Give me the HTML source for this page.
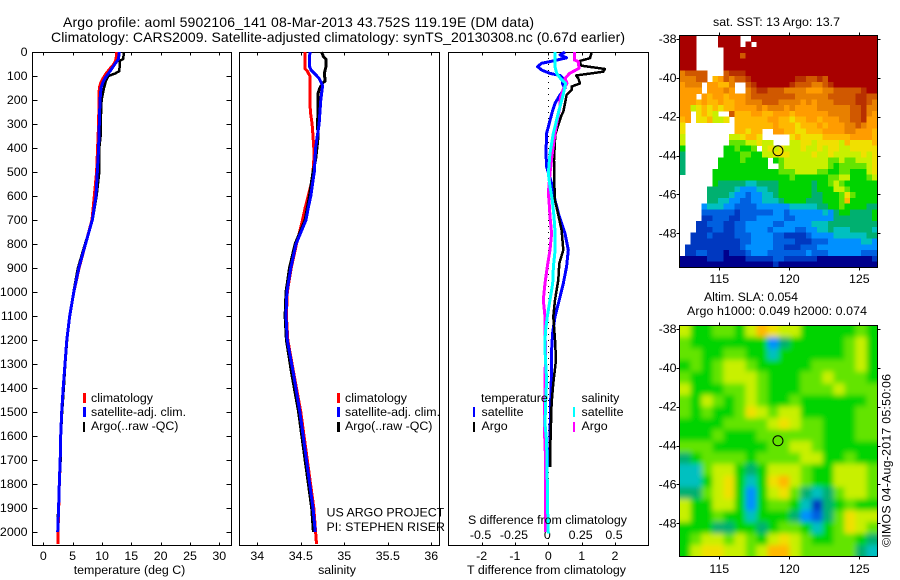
<!DOCTYPE html>
<html lang="en">
<head>
<meta charset="utf-8">
<title>Argo profile 5902106_141</title>
<style>
html,body{margin:0;padding:0;background:#fff;}
svg{display:block;}
text{font-family:"Liberation Sans",sans-serif;font-size:12.4px;fill:#000;}
.title{font-size:14px;}
.frame{fill:none;stroke:#000;stroke-width:1;}
</style>
</head>
<body>
<svg id="chart" xmlns="http://www.w3.org/2000/svg" width="900" height="580" viewBox="0 0 900 580" shape-rendering="crispEdges">
  <defs>
    <clipPath id="clip-sst"><rect x="679.5" y="35.5" width="198" height="232"/></clipPath>
    <clipPath id="clip-sla"><rect x="679.5" y="325.5" width="198" height="231"/></clipPath>
    <filter id="sla-smooth" filterUnits="userSpaceOnUse" x="640" y="290" width="280" height="300"><feGaussianBlur stdDeviation="2.6"/></filter>
  </defs>

  <text class="title" x="63" y="27" textLength="471" lengthAdjust="spacing">Argo profile: aoml 5902106_141 08-Mar-2013 43.752S 119.19E (DM data)</text>
  <text class="title" x="51" y="42" textLength="574" lengthAdjust="spacing">Climatology: CARS2009. Satellite-adjusted climatology: synTS_20130308.nc (0.67d earlier)</text>

  <g id="p1"></g>
  <g id="p2"></g>
  <g id="p3"></g>

  <text x="129.5" y="574" text-anchor="middle">temperature (deg C)</text>
  <text x="337" y="574" text-anchor="middle">salinity</text>
  <text x="468" y="524" textLength="159" lengthAdjust="spacing">S difference from climatology</text>
  <text x="467" y="574" textLength="159" lengthAdjust="spacing">T difference from climatology</text>

  <g>
    <rect x="83" y="393" width="3" height="10" fill="#ff0000"/>
    <text x="91" y="402">climatology</text>
    <rect x="83" y="407" width="3" height="10" fill="#0000ff"/>
    <text x="91" y="416">satellite-adj. clim.</text>
    <rect x="83" y="422" width="2" height="10" fill="#000"/>
    <text x="91" y="430">Argo(..raw -QC)</text>
  </g>
  <g>
    <rect x="337" y="393" width="3" height="10" fill="#ff0000"/>
    <text x="345" y="402">climatology</text>
    <rect x="337" y="407" width="3" height="10" fill="#0000ff"/>
    <text x="345" y="416">satellite-adj. clim.</text>
    <rect x="337" y="422" width="3" height="10" fill="#000"/>
    <text x="345" y="430">Argo(..raw -QC)</text>
  </g>
  <text x="326.5" y="516.5">US ARGO PROJECT</text>
  <text x="326.5" y="531">PI: STEPHEN RISER</text>

  <g>
    <text x="481" y="402">temperature</text>
    <rect x="473" y="407" width="2" height="10" fill="#0000ff"/>
    <text x="481.5" y="416">satellite</text>
    <rect x="473" y="422" width="2" height="10" fill="#000"/>
    <text x="481.5" y="430">Argo</text>
    <text x="581.5" y="402">salinity</text>
    <rect x="573" y="407" width="2" height="10" fill="#00ffff"/>
    <text x="581.5" y="416">satellite</text>
    <rect x="573" y="422" width="2" height="10" fill="#ff00ff"/>
    <text x="581.5" y="430">Argo</text>
  </g>

  <text x="713" y="26" textLength="127" lengthAdjust="spacing">sat. SST: 13 Argo: 13.7</text>
  <g id="m1"></g>
  <text x="704" y="301" textLength="94" lengthAdjust="spacing">Altim. SLA: 0.054</text>
  <text x="687" y="315" textLength="180" lengthAdjust="spacing">Argo h1000: 0.049 h2000: 0.074</text>
  <g id="m2"></g>
  <text transform="translate(890.5,547) rotate(-90)" textLength="173" lengthAdjust="spacing">©IMOS 04-Aug-2017 05:50:06</text>
</svg>

<script>
// ---- tick data ----
const depthTicks = [0,100,200,300,400,500,600,700,800,900,1000,1100,1200,1300,1400,1500,1600,1700,1800,1900,2000];
const tempTicks = [0,5,10,15,20,25,30];
const salTicks = [34,34.5,35,35.5,36];
const tDiffTicks = [-2,-1,0,1,2];
const sDiffTicks = [-0.5,-0.25,0,0.25,0.5];
const lonTicks = [115,120,125];
const latTicks = [38,40,42,44,46,48];

// ---- temperature profiles ----
const tempClimDepth = [0,30,50,70,90,110,130,150,200,300,400,500,600,700,800,900,1000,1100,1200,1300,1400,1500,1600,1700,1800,1900,2000,2050];
const tempClim = [12.5,12.4,12.05,11.36,10.68,10.2,9.77,9.55,9.5,9.43,9.26,9.09,8.7,8.3,7.2,6.1,5.2,4.5,4.0,3.7,3.4,3.13,2.96,2.9,2.73,2.62,2.5,2.5];
const tempArgoDepth = [0,30,35,80,90,100,120,150,200,300,350,400,500,600,700,800,900,1000,1100,1200,1300,1400,1500,1600,1700,1800,1900,1950,2000];
const tempArgo = [13.75,13.6,13.07,12.95,12.2,11.08,10.68,10.34,9.94,9.77,9.77,9.55,9.55,9.09,8.4,7.1,5.9,5.15,4.5,4.05,3.75,3.5,3.2,3.0,2.95,2.75,2.55,2.45,2.5];
const tempSatDepth = [0,30,50,70,90,110,130,150,200,300,400,500,600,700,800,900,1000,1100,1200,1300,1400,1500,1600,1700,1800,1900,2000];
const tempSat = [12.95,12.8,12.2,11.65,11.08,10.5,10.1,9.83,9.66,9.55,9.43,9.2,8.98,8.35,7.2,6.05,5.2,4.5,4.0,3.7,3.4,3.13,2.96,2.88,2.72,2.6,2.45];

// ---- salinity profiles ----
const salClimDepth = [0,70,80,100,200,250,300,350,400,450,500,550,600,650,700,800,900,1000,1100,1200,1340,1500,1700,1900,2000,2050];
const salClim = [34.55,34.55,34.575,34.605,34.605,34.61,34.63,34.64,34.65,34.65,34.64,34.62,34.585,34.55,34.52,34.45,34.39,34.345,34.335,34.35,34.42,34.5,34.575,34.65,34.67,34.68];
const salArgoDepth = [0,20,30,60,90,120,130,150,170,250,300,350,450,500,550,600,650,700,800,900,1000,1100,1200,1340,1500,1700,1900,2000];
const salArgo = [34.74,34.76,34.79,34.79,34.77,34.78,34.75,34.72,34.70,34.70,34.69,34.70,34.67,34.64,34.62,34.60,34.575,34.55,34.435,34.37,34.33,34.32,34.335,34.395,34.475,34.55,34.625,34.645];
const salSatDepth = [0,30,60,75,90,110,140,200,300,350,400,500,550,600,650,700,800,900,1000,1100,1200,1340,1500,1700,1900,2000];
const salSat = [34.605,34.6,34.6,34.617,34.66,34.71,34.75,34.73,34.71,34.69,34.67,34.655,34.635,34.615,34.585,34.56,34.445,34.385,34.34,34.33,34.345,34.415,34.49,34.565,34.64,34.667];

// ---- difference profiles ----
const dTSatDepth = [1,12,24,37,47,61,75,89,98,110,131,151,179,214,249,339,422,478,547,617,686,756,825,894,964,1033,1103,1172,1242,1325,1464,1604,1730];
const dTSat = [0.5,0.35,0.55,0.15,-0.2,-0.32,-0.2,0.05,0.35,0.45,0.42,0.5,0.35,0.2,0.12,-0.05,-0.07,-0.05,0.1,0.2,0.33,0.5,0.6,0.55,0.45,0.33,0.2,0.13,0.1,0.1,0.07,0.05,0.03];
const dTArgoDepth = [1,26,37,47,57,71,82,98,110,131,144,158,179,214,249,262,339,367,450,547,617,742,825,881,950,1033,1103,1200,1283,1380,1464,1604,1686,1730];
const dTArgo = [1.3,1.25,0.95,0.95,1.0,1.7,1.65,0.83,0.9,0.95,0.7,0.7,0.55,0.5,0.45,0.4,0.22,0.2,0.17,0.18,0.2,0.4,0.45,0.33,0.3,0.2,0.15,0.2,0.23,0.15,0.1,0.07,0.05,0.05];
const dSArgoDepth = [0,33,40,68,89,110,131,158,193,228,283,339,422,506,589,617,686,756,825,894,964,1033,1103,1172,1242,1367,1560,1700,1850,2000];
const dSArgo = [0.195,0.195,0.225,0.23,0.16,0.125,0.14,0.11,0.09,0.0875,0.0675,0.05,0.03,0.0125,0,0.005,0.0127,0.025,0.0127,-0.0075,-0.025,-0.0375,-0.025,-0.025,-0.02,-0.025,-0.03,-0.02,-0.02,-0.02];
const dSSatDepth = [0,33,61,89,111,131,181,243,339,422,506,561,617,686,756,825,894,964,1033,1103,1172,1242,1367,1464,1550,1620,1760,1900,2007];
const dSSat = [0.05,0.05,0.05,0.0627,0.0925,0.13,0.11,0.08,0.0375,0.0125,0,0.0125,0.03,0.0427,0.051,0.051,0.038,0.033,0.0127,-0.0075,-0.0222,-0.025,-0.0125,-0.02,-0.025,-0.0125,-0.008,-0.005,0];

// ---- sea-surface temperature grid (hex colour level per cell, '.' = no data) ----
const sstRows = [
"fff... .ffff. .fffff ffffff ffffff ffffff",
"fff... .ffff. f.ffff ffffff ffffff ffffff",
"fff... ..ffff ffffff ffffff ffffff ffffff",
"fff... ..fffd ffffff ffffff ffffff ffffff",
"fff... ..ffff ffffff ffffff ffffff ffffff",
"fff... ..ffff ffffff ffffff ffffff ffffff",
"cdddd. ..deee ffffff ffffff ffffff ffffff",
"cccdd. abdcdd efffff fffeed dedfff ffffff",
"bccc.b baac.. deffff ffeddd ccdeff ffffff",
"bbbb.b bbcb.. cdeedd dccccb bbccdd dddeff",
"bbb.ba bbabbb cddddd dddccc cccddd ddeedd",
"bbbaba abaabb cccddd ccccbc bcccdd ddeedc",
"bb89a9 a9aabb bbcbcc cbcbbb bccccc cddecc",
"bb.9a9 8..daa abbaab bbabbb bbbccc cddecb",
"ab.99a 889.aa aaaabb aa9aab babbbc cddebb",
"9..... ....aa aaaaab aaa9aa ababbb ccdcbb",
"9..... ....aa 9aa..b baa99a aabbbb ccbbba",
"8..... ...889 aa9... ..9a99 99aaaa abbbba",
"8..... ...777 88988. ..8899 899998 a9999a",
"6..... ..6676 67.898 988898 898998 899999",
"5..... ..6667 766889 998888 988988 888989",
"5..... .66667 6666.6 788888 888778 778889",
"5..... .66666 6666.. 788888 888767 777789",
"5..... 666666 666666 777888 877667 766689",
"...... 666666 666666 667666 666778 866678",
"...... 655555 445555 666666 566787 666666",
".....5 555543 334455 666666 566688 766666",
".....5 555433 233445 666666 556667 976666",
".....5 544332 233444 566665 556667 a66666",
"....34 443322 223333 334444 455667 666655",
"....22 222212 222223 323333 334356 655556",
"....11 222112 223333 322333 333355 555556",
"...112 221122 333332 233333 444555 555555",
"...111 221122 333323 333223 344544 455554",
"..1112 111122 233332 211112 333344 444455",
"..1111 111112 233332 222111 222333 333443",
".11111 111112 333332 211122 233333 333333",
".11221 110111 233322 222223 222333 333222",
"000001 110000 111112 211111 100000 000001",
"000000 000000 000001 000000 000000 000000"
];

// ---- sea-level anomaly grid (hex colour level per cell) ----
const slaRows = [
"866776 8a9 886 666 676",
"766666 663 566 666 786",
"776677 664 666 666 786",
"676788 766 666 777 786",
"766788 876 667 787 776",
"866677 876 667 778 777",
"768767 876 676 666 667",
"767667 987 886 666 677",
"666677 778 987 766 677",
"666766 677 777 766 677",
"777666 667 788 766 666",
"567777 677 778 866 766",
"447886 568 887 668 887",
"446896 469 a87 668 887",
"557896 368 975 457 887",
"866886 367 764 156 766",
"866766 466 653 257 988",
"666556 656 776 467 987",
"678878 768 987 667 765",
"689988 78a a87 777 754"
];

// ---- Argo float location ----
const floatLon = [119.19];
const floatLat = [43.752];

// ---- colour levels (style, not data) ----
const levelColors = ['#00008c','#0038c0','#0060e0','#0090ff','#00c0c0','#00b070','#00d400','#64e400','#c8f000','#f0e000','#ffb800','#ff9c00','#e88000','#d05800','#b83000','#a80000'];

// ---- axis functions ----
function yDepth(d){ return 52 + d * 0.24; }
function xTemp(v){ return 43.3 + v * 5.867; }
function xSal(v){ return 257.3 + (v - 34) * 87; }
function xDT(v){ return 548.3 + v * 33.35; }
function xDS(v){ return 548.3 + v * 133.4; }
function xLon(v){ return 719.3 + (v - 115) * 14; }
function yLat1(v){ return 39 + (v - 38) * 19.43; }
function yLat2(v){ return 329 + (v - 38) * 19.43; }

const NS = 'http://www.w3.org/2000/svg';
function make(tag, parent){
  const el = document.createElementNS(NS, tag);
  parent.appendChild(el);
  return el;
}
function seg(parent, x1, y1, x2, y2){
  const el = make('line', parent);
  el.setAttribute('x1', x1); el.setAttribute('y1', y1);
  el.setAttribute('x2', x2); el.setAttribute('y2', y2);
  el.setAttribute('stroke', '#000');
  el.setAttribute('stroke-width', 1);
  return el;
}
function label(parent, x, y, str, anchor){
  const el = make('text', parent);
  el.setAttribute('x', x); el.setAttribute('y', y);
  el.setAttribute('text-anchor', anchor);
  el.textContent = str;
  return el;
}
function frame(parent, x, y, w, h){
  const el = make('rect', parent);
  el.setAttribute('class', 'frame');
  el.setAttribute('x', x); el.setAttribute('y', y);
  el.setAttribute('width', w); el.setAttribute('height', h);
  return el;
}
function profile(parent, depths, vals, xf, color, width){
  const el = make('polyline', parent);
  el.setAttribute('points', depths.map(function(d, i){ return xf(vals[i]).toFixed(1) + ',' + yDepth(d).toFixed(1); }).join(' '));
  el.setAttribute('fill', 'none');
  el.setAttribute('stroke', color);
  el.setAttribute('stroke-width', width);
  el.setAttribute('stroke-linejoin', 'round');
  return el;
}
function horizontalTicks(parent, ticks, xf, top, bottom, kind){
  ticks.forEach(function(t){
    const x = Math.round(xf(t)) + 0.5;
    const a = seg(parent, x, top, x, top + 3);
    
    
    const b = seg(parent, x, bottom - 3, x, bottom);
    
    
  });
}

// ---- panel 1: temperature ----
const p1 = document.getElementById('p1');
const f1 = frame(p1, 32.5, 52.5, 199, 493);


depthTicks.forEach(function(d){
  const y = Math.round(yDepth(d)) + 0.5;
  const l = seg(p1, 32.5, y, 37.5, y);
  
  
  const r = seg(p1, 226.5, y, 231.5, y);
  
  
  const t = label(p1, 27.5, yDepth(d) + 4, String(d), 'end');
  
  
});
horizontalTicks(p1, tempTicks, xTemp, 52.5, 545.5, 'temperature');
tempTicks.forEach(function(v){
  const t = label(p1, xTemp(v), 560, String(v), 'middle');
  
  
});
const tC = profile(p1, tempClimDepth, tempClim, xTemp, '#ff0000', 3);


const tA = profile(p1, tempArgoDepth, tempArgo, xTemp, '#000000', 2.5);


const tS = profile(p1, tempSatDepth, tempSat, xTemp, '#0000ff', 3);



// ---- panel 2: salinity ----
const p2 = document.getElementById('p2');
const f2 = frame(p2, 239.5, 52.5, 200, 493);


horizontalTicks(p2, salTicks, xSal, 52.5, 545.5, 'salinity');
salTicks.forEach(function(v){
  const t = label(p2, xSal(v), 560, String(v), 'middle');
  
  
});
const sC = profile(p2, salClimDepth, salClim, xSal, '#ff0000', 3);


const sA = profile(p2, salArgoDepth, salArgo, xSal, '#000000', 3);


const sS = profile(p2, salSatDepth, salSat, xSal, '#0000ff', 3);



// ---- panel 3: differences ----
const p3 = document.getElementById('p3');
const f3 = frame(p3, 448.5, 52.5, 200, 493);


const zero = seg(p3, Math.round(xDT(0)) + 0.5, yDepth(0), Math.round(xDT(0)) + 0.5, yDepth(2050));
zero.setAttribute('stroke-dasharray', '1 5');


horizontalTicks(p3, tDiffTicks, xDT, 52.5, 545.5, 'difference');
tDiffTicks.forEach(function(v){
  const t = label(p3, xDT(v), 560, String(v), 'middle');
  
  
});
sDiffTicks.forEach(function(v){
  const t = label(p3, xDS(v) - 1, 539, String(v), 'middle');
  
  
});
const dB = profile(p3, dTSatDepth, dTSat, xDT, '#0000ff', 3);


const dK = profile(p3, dTArgoDepth, dTArgo, xDT, '#000000', 2.5);


const dM = profile(p3, dSArgoDepth, dSArgo, xDS, '#ff00ff', 3);


const dC = profile(p3, dSSatDepth, dSSat, xDS, '#00ffff', 3);



// ---- maps ----
function mapAxes(parent, top, bottom, yLat, labelBase){
  lonTicks.forEach(function(v){
    const x = Math.round(xLon(v)) + 0.5;
    const a = seg(parent, x, top - 3, x, top);
    
    
    const b = seg(parent, x, bottom, x, bottom + 3);
    
    
    const t = label(parent, xLon(v), labelBase, String(v), 'middle');
    
    
  });
  latTicks.forEach(function(v){
    const y = Math.round(yLat(v)) + 0.5;
    const a = seg(parent, 676.5, y, 679.5, y);
    
    
    const b = seg(parent, 877.5, y, 880.5, y);
    
    
    const t = label(parent, 676.5, yLat(v) + 4, String(-v), 'end');
    
    
  });
}
function floatMarker(parent, yLat){
  const c = make('circle', parent);
  c.setAttribute('cx', xLon(floatLon[0]));
  c.setAttribute('cy', yLat(floatLat[0]));
  c.setAttribute('r', 5);
  c.setAttribute('fill', 'none');
  c.setAttribute('stroke', '#000');
  c.setAttribute('stroke-width', 1);
  c.setAttribute('shape-rendering', 'auto');
  return c;
}

// SST map
const m1 = document.getElementById('m1');
const sstCells = make('g', m1);
sstCells.setAttribute('clip-path', 'url(#clip-sst)');


sstRows.forEach(function(raw, r){
  const row = raw.replace(/ /g, '');
  const h = 232 / sstRows.length;
  const w = 198 / row.length;
  for (let c = 0; c < row.length; c++){
    if (row[c] === '.') continue;
    const cell = make('rect', sstCells);
    cell.setAttribute('x', (679.5 + c * w).toFixed(2));
    cell.setAttribute('y', (35.5 + r * h).toFixed(2));
    cell.setAttribute('width', (w + 0.5).toFixed(2));
    cell.setAttribute('height', (h + 0.5).toFixed(2));
    cell.setAttribute('fill', levelColors[parseInt(row[c], 16)]);
    
    
  }
});
const m1f = frame(m1, 679.5, 35.5, 198, 232);


mapAxes(m1, 35.5, 267.5, yLat1, 283);
const m1c = floatMarker(m1, yLat1);



// SLA map
const m2 = document.getElementById('m2');
const slaClip = make('g', m2);
slaClip.setAttribute('clip-path', 'url(#clip-sla)');


const slaCells = make('g', slaClip);
slaCells.setAttribute('filter', 'url(#sla-smooth)');


slaRows.forEach(function(raw, r){
  const row = raw.replace(/ /g, '');
  const h = 231 / slaRows.length;
  const w = 198 / row.length;
  for (let c = 0; c < row.length; c++){
    const padL = c === 0 ? 14 : 0;
    const padR = c === row.length - 1 ? 14 : 0.5;
    const padT = r === 0 ? 14 : 0;
    const padB = r === slaRows.length - 1 ? 14 : 0.5;
    const cell = make('rect', slaCells);
    cell.setAttribute('x', (679.5 + c * w - padL).toFixed(2));
    cell.setAttribute('y', (325.5 + r * h - padT).toFixed(2));
    cell.setAttribute('width', (w + padL + padR).toFixed(2));
    cell.setAttribute('height', (h + padT + padB).toFixed(2));
    cell.setAttribute('fill', levelColors[parseInt(row[c], 16)]);
    
    
  }
});
const m2f = frame(m2, 679.5, 325.5, 198, 231);


mapAxes(m2, 325.5, 556.5, yLat2, 573);
const m2c = floatMarker(m2, yLat2);


</script>
</body>
</html>
